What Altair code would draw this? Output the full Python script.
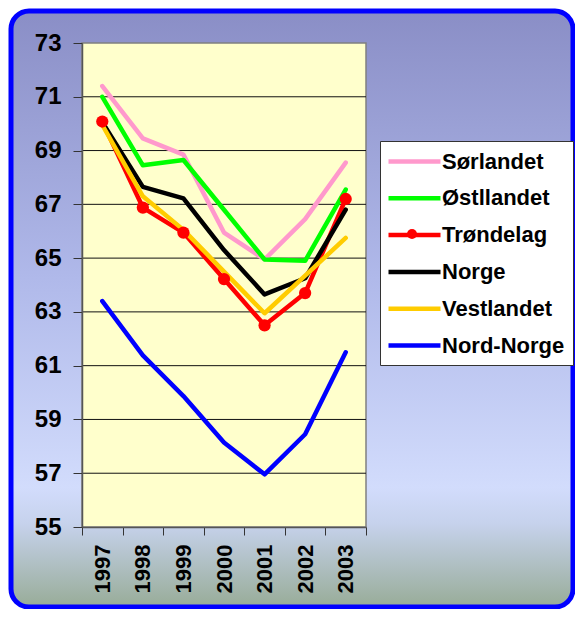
import altair as alt
import pandas as pd

years = ["1997", "1998", "1999", "2000", "2001", "2002", "2003"]
series = ["Sørlandet", "Østllandet", "Trøndelag", "Norge", "Vestlandet", "Nord-Norge"]
colors = ["#ff99cc", "#00ff00", "#ff0000", "#000000", "#ffcc00", "#0000ff"]
sorlandet = [71.4, 69.45, 68.85, 65.95, 64.95, 66.45, 68.55]
ostlandet = [71.0, 68.45, 68.65, 66.8, 64.95, 64.9, 67.55]
trondelag = [70.08, 66.88, 65.95, 64.22, 62.5, 63.7, 67.2]
norge = [70.05, 67.65, 67.22, 65.3, 63.65, 64.25, 66.8]
vestlandet = [69.95, 67.3, 66.05, 64.5, 62.95, 64.35, 65.75]
nordnorge = [63.4, 61.38, 59.87, 58.14, 56.96, 58.45, 61.5]
y_ticks = [55, 57, 59, 61, 63, 65, 67, 69, 71, 73]
grid_values = [57, 59, 61, 63, 65, 67, 69, 71]

values = [sorlandet, ostlandet, trondelag, norge, vestlandet, nordnorge]
rows = []
for name, vals in zip(series, values):
    for yr, v in zip(years, vals):
        rows.append({"region": name, "year": yr, "value": v})
df = pd.DataFrame(rows)
df_trond = df[df.region == "Trøndelag"]
df_grid = pd.DataFrame({"value": grid_values})

W, H = 284, 484
FONT = "Liberation Sans"

yscale = alt.Scale(domain=[55, 73], nice=False, zero=False)
xscale = alt.Scale(type="band", paddingInner=0, paddingOuter=0, domain=years)

y_axis = alt.Axis(title=None, values=y_ticks, tickSize=9, labelPadding=12,
                  labelFont=FONT, labelFontSize=24, labelFontWeight="bold",
                  labelColor="#000000", domainColor="#555555", tickColor="#333333",
                  domainWidth=1.5, zindex=1, grid=False)
x_axis = alt.Axis(title=None, labelAngle=-90, tickBand="extent", tickSize=8,
                  labelPadding=9, labelFont=FONT, labelFontSize=22,
                  labelFontWeight="bold", labelColor="#000000",
                  domainColor="#555555", tickColor="#333333", domainWidth=1.5,
                  zindex=1, grid=False)

bg_fill = alt.Gradient(
    gradient="linear", x1=0, x2=0, y1=0, y2=1,
    stops=[
        alt.GradientStop(offset=0, color="#8a8ec6"),
        alt.GradientStop(offset=0.45, color="#b0b9ea"),
        alt.GradientStop(offset=0.8, color="#d2dcfc"),
        alt.GradientStop(offset=0.86, color="#c6d2ec"),
        alt.GradientStop(offset=1, color="#98ac98"),
    ],
)

bg = alt.Chart(alt.Data(values=[{"a": 1}])).mark_rect(
    fill=bg_fill, stroke="#0000ff", strokeWidth=5, cornerRadius=18
).encode(x=alt.value(-71), x2=alt.value(W + 207), y=alt.value(-32), y2=alt.value(H + 80))

plot_bg = alt.Chart(alt.Data(values=[{"a": 1}])).mark_rect(
    fill="#ffffcc", stroke="#808080", strokeWidth=1.5
).encode(x=alt.value(0), x2=alt.value(W), y=alt.value(0), y2=alt.value(H))

grid = alt.Chart(df_grid).mark_rule(color="#111111", strokeWidth=1).encode(
    y=alt.Y("value:Q", scale=yscale, axis=y_axis)
)

legend_path_line = "M-2.6,0L2.6,0"

lines = alt.Chart(df).mark_line(strokeWidth=4.5, strokeCap="round", strokeJoin="round").encode(
    x=alt.X("year:O", scale=xscale, sort=years, axis=x_axis),
    y=alt.Y("value:Q", scale=yscale, axis=y_axis),
    color=alt.Color("region:N", sort=series,
                    scale=alt.Scale(domain=series, range=colors),
                    legend=alt.Legend(
                        title=None, orient="none", legendX=298, legendY=98,
                        labelFont=FONT, labelFontSize=22, labelFontWeight="bold",
                        labelColor="#000000", labelOffset=15,
                        symbolType=legend_path_line,
                        symbolSize=400, symbolStrokeWidth=4.5, symbolOffset=14,
                        rowPadding=12.8, padding=8, strokeColor="#333333",
                        fillColor="#ffffff", labelLimit=300,
                    )),
    detail="region:N",
)

points = alt.Chart(df_trond).mark_point(size=150, opacity=1, filled=True, color="#ff0000").encode(
    x=alt.X("year:O", scale=xscale, sort=years, axis=x_axis),
    y=alt.Y("value:Q", scale=yscale, axis=y_axis),
    shape=alt.Shape("region:N", scale=alt.Scale(domain=["Trøndelag"], range=["circle"]),
                    legend=alt.Legend(title=None, orient="none", legendX=325, legendY=186,
                                      padding=0, labelExpr="''", labelFontSize=1,
                                      symbolSize=100, symbolStrokeWidth=0,
                                      symbolFillColor="#ff0000", symbolOpacity=1)),
)

chart = alt.layer(bg, plot_bg, grid, lines, points).properties(
    width=W, height=H,
    autosize=alt.AutoSizeParams(type="none"),
    padding={"left": 74, "top": 35, "right": 567 - 74 - W, "bottom": 601 - 35 - H},
).configure_view(stroke=None, fill=None).configure(background="#ffffff")

chart.save("out.html", embed_options={"renderer": "svg", "actions": False})
